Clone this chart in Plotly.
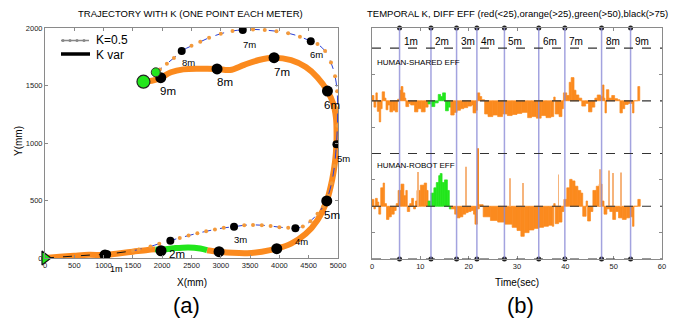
import plotly.graph_objects as go

# ---------------- Left panel data: trajectories (mm) ----------------
kvar_a_x = [0, 250, 500, 750, 1024, 1250, 1500, 1750, 1880]
kvar_a_y = [0, 10, 20, 28, 26, 40, 55, 70, 75]
kvar_green_x = [1880, 1980, 2200, 2450, 2650, 2765]
kvar_green_y = [75, 72, 85, 92, 82, 68]
kvar_b_x = [2765, 2970, 3200, 3450, 3700, 3955, 4200, 4450, 4650, 4808, 4900, 4950, 4973,
            4975, 4965, 4920, 4820, 4650, 4450, 4200, 3909, 3650, 3400, 3158, 2936, 2650,
            2361, 2150, 1975, 1850, 1680]
kvar_b_y = [68, 55, 45, 42, 55, 81, 125, 210, 330, 496, 680, 840, 990,
            1100, 1220, 1340, 1452, 1570, 1660, 1720, 1742, 1722, 1680, 1635, 1644, 1645,
            1640, 1615, 1568, 1545, 1533]

k05_start_x = [0, 300, 600, 900, 1200, 1500]
k05_start_y = [0, 8, 20, 30, 42, 62]
k05_x = [1500, 1600, 1800, 1950, 2139, 2300, 2450, 2600, 2750, 2900, 3050, 3226, 3400, 3550,
         3700, 3850, 4000, 4150, 4273, 4400, 4530, 4650, 4750, 4830, 4890, 4940, 4973, 4990,
         4995, 4985, 4950, 4880, 4780, 4650, 4535, 4350, 4150, 3950, 3750, 3550, 3375, 3200,
         3000, 2800, 2650, 2500, 2333, 2200, 2080, 1960, 1890]
k05_y = [62, 75, 100, 125, 151, 175, 195, 215, 232, 248, 262, 272, 285, 288,
         285, 278, 268, 262, 258, 275, 320, 385, 450, 540, 650, 800, 990, 1150,
         1300, 1450, 1580, 1700, 1800, 1860, 1885, 1925, 1955, 1972, 1982, 1988, 1983, 1975,
         1950, 1915, 1880, 1845, 1800, 1740, 1690, 1640, 1615]

kvar_meter_x = [1024, 1980, 2970, 3955, 4808, 4820, 3909, 2936, 1975]
kvar_meter_y = [26, 63, 55, 81, 496, 1452, 1742, 1644, 1568]
k05_meter_x = [1060, 2139, 3226, 4273, 4973, 4535, 3375, 2333]
k05_meter_y = [32, 151, 272, 258, 990, 1885, 1983, 1800]

kvar_label_text = ["2m", "5m", "6m", "7m", "8m", "9m"]
kvar_label_x = [2248, 4900, 4905, 4040, 3072, 2105]
kvar_label_y = [32, 374, 1330, 1620, 1533, 1448]
k05_label_text = ["1m", "3m", "4m", "5m", "6m", "7m", "8m"]
k05_label_x = [1215, 3329, 4381, 5092, 4637, 3488, 2446]
k05_label_y = [-92, 157, 142, 867, 1770, 1858, 1700]

# ---------------- Right panel data: temporal efficiency ----------------
hs_t = [0.0, 0.4, 0.8, 1.1, 1.5, 1.8, 2.1, 2.6, 2.9, 3.3, 3.7, 4.3, 4.8, 5.3, 5.7, 6.0, 6.4,
        6.8, 7.0, 7.6, 8.0, 8.8, 9.5, 10.2, 11.0, 11.6, 12.3, 13.0, 13.7, 14.2, 14.6, 15.2,
        15.8, 16.3, 17.0, 17.6, 18.3, 19.0, 19.8, 20.6, 20.9, 21.5, 21.8, 22.3, 22.7, 23.3,
        24.0, 25.0, 26.0, 27.0, 28.0, 29.0, 30.0, 31.0, 32.2, 33.0, 34.0, 35.0, 36.0, 37.0,
        37.6, 37.9, 38.7, 39.3, 39.6, 40.3, 40.8, 41.2, 41.8, 42.2, 42.8, 43.4, 44.2, 44.8,
        45.5, 46.1, 46.6, 47.3, 47.7, 48.0, 48.2, 48.5, 49.0, 49.6, 50.2, 50.8, 51.3, 51.8,
        52.3, 53.0, 53.9, 54.2, 55.0]
hs_v = [0.10, -0.12, 0.15, -0.20, -0.40, -0.15, 0.17, 0.05, -0.17, -0.08, -0.21, -0.18, -0.21,
        0.03, 0.20, 0.27, 0.15, 0.05, -0.11, -0.05, -0.08, -0.21, -0.15, -0.21, -0.12, -0.06,
        -0.11, -0.04, 0.12, 0.08, 0.15, -0.19, -0.12, -0.27, -0.22, -0.18, -0.15, -0.13, -0.10,
        -0.08, -0.23, -0.18, 0.15, 0.08, 0.02, -0.25, -0.30, -0.27, -0.30, -0.25, -0.28, -0.26,
        -0.24, -0.22, -0.32, -0.30, -0.33, -0.28, -0.32, -0.30, 0.07, -0.25, -0.30, -0.15, 0.15,
        0.10, 0.35, 0.44, 0.20, 0.11, 0.05, -0.10, -0.05, -0.21, -0.12, 0.05, 0.11, 0.08, 0.30,
        0.05, -0.23, 0.21, 0.05, 0.10, 0.04, 0.02, -0.23, -0.15, -0.07, -0.05, -0.23, 0.0, 0.27]
hs_end = 55.4
hs_green = (11.6, 16.3)

hr_t = [0.0, 0.4, 0.7, 1.1, 1.4, 1.8, 2.3, 2.6, 3.0, 3.5, 4.0, 4.6, 5.0, 5.4, 6.0, 6.6, 7.0,
        7.3, 7.8, 8.2, 8.6, 9.0, 9.3, 10.0, 10.8, 11.3, 11.6, 12.2, 12.8, 13.3, 13.8, 14.1,
        14.5, 15.0, 15.6, 16.0, 16.4, 17.1, 17.6, 18.2, 18.8, 19.4, 19.9, 20.5, 21.0, 21.3,
        21.8, 22.2, 23.0, 24.5, 26.0, 27.5, 29.0, 30.0, 30.8, 31.5, 32.5, 33.5, 34.5, 35.5,
        36.5, 37.3, 37.6, 37.9, 38.6, 39.3, 39.7, 40.3, 40.9, 41.4, 42.0, 42.6, 43.2, 43.6,
        44.3, 44.6, 45.2, 45.7, 46.4, 47.0, 47.6, 48.0, 48.6, 49.2, 49.8, 50.4, 51.0, 51.8,
        52.6, 53.3, 53.9, 54.2, 55.0]
hr_v = [0.13, -0.05, 0.15, 0.08, -0.15, 0.35, 0.44, 0.05, -0.25, -0.20, -0.15, -0.08, 0.05,
        0.30, 0.42, 0.20, 0.30, -0.10, 0.05, 0.15, -0.05, 0.10, 0.30, 0.40, 0.44, 0.30, 0.10,
        0.25, 0.35, 0.45, 0.58, 0.62, 0.45, 0.50, 0.30, -0.05, -0.05, -0.15, -0.22, -0.20,
        -0.15, -0.12, -0.10, -0.08, -0.15, -0.34, -0.05, 0.03, -0.20, -0.27, -0.30, -0.34,
        -0.40, -0.46, -0.57, -0.50, -0.45, -0.42, -0.40, -0.38, -0.36, -0.38, 0.05, -0.33,
        -0.30, -0.10, 0.13, 0.35, 0.51, 0.48, 0.38, 0.30, 0.25, -0.19, 0.10, -0.28, -0.10, 0.30,
        0.38, 0.42, 0.10, -0.15, -0.05, -0.10, -0.25, -0.10, -0.22, -0.25, -0.22, -0.20, -0.38,
        0.0, 0.13]
hr_end = 55.5
hr_green = (11.6, 16.4)

hr_spike_t = [9.5, 19.5, 22.0, 28.5, 31.3, 38.6, 47.2, 49.0, 49.9, 51.6]
hr_spike_v = [0.65, 0.75, 1.10, 0.53, 0.44, 0.60, 0.70, 0.68, 0.63, 0.64]

meter_t = [5.7, 12.2, 17.5, 21.7, 27.4, 34.5, 39.9, 47.5, 53.5]
meter_labels = ["1m", "2m", "3m", "4m", "5m", "6m", "7m", "8m", "9m"]

HS_BASE, HR_BASE = 3, 1
Y2_TOP = 4.38

ORANGE = "#fb8a1e"
GREEN = "#22e61c"
LIGHT_OR = "#f6b47c"
FONT = "Liberation Sans, Arial, sans-serif"
NARROW = "Liberation Sans Narrow, Arial Narrow, Liberation Sans, sans-serif"

# pixel layout of the page
W, H = 690.0, 326.0
L_X0, L_X1, L_Y0, L_Y1 = 45, 338, 258, 28     # left plot box (px)
R_X0, R_X1, R_Y0, R_Y1 = 372, 662, 259, 28    # right plot box (px)
X_MAX, Y_MAX = 5000, 2000


def px(x):
    return x / W


def py(y):
    return 1 - y / H


fig = go.Figure()

# ----- left panel traces -----
fig.add_trace(go.Scatter(x=kvar_a_x, y=kvar_a_y, mode="lines", line=dict(color=ORANGE, width=6, shape="spline"),
                         xaxis="x", yaxis="y", cliponaxis=False))
fig.add_trace(go.Scatter(x=kvar_b_x, y=kvar_b_y, mode="lines", line=dict(color=ORANGE, width=6, shape="spline"),
                         xaxis="x", yaxis="y", cliponaxis=False))
fig.add_trace(go.Scatter(x=kvar_green_x, y=kvar_green_y, mode="lines", line=dict(color=GREEN, width=6, shape="spline"),
                         xaxis="x", yaxis="y"))
fig.add_trace(go.Scatter(x=k05_start_x, y=k05_start_y, mode="lines", line=dict(color="#111", width=1, dash="dash"),
                         xaxis="x", yaxis="y"))
fig.add_trace(go.Scatter(x=k05_x, y=k05_y, mode="lines+markers",
                         line=dict(color="#2a3fd6", width=1, dash="dash", shape="spline"),
                         marker=dict(color="#f39a3c", size=4),
                         xaxis="x", yaxis="y"))
fig.add_trace(go.Scatter(x=k05_meter_x, y=k05_meter_y, mode="markers", marker=dict(color="black", size=8),
                         xaxis="x", yaxis="y"))
fig.add_trace(go.Scatter(x=kvar_meter_x, y=kvar_meter_y, mode="markers", marker=dict(color="black", size=11),
                         xaxis="x", yaxis="y"))
fig.add_trace(go.Scatter(x=[k05_x[-1]], y=[k05_y[-1]], mode="markers",
                         marker=dict(color=GREEN, size=9, line=dict(color="#333", width=1)), xaxis="x", yaxis="y"))
fig.add_trace(go.Scatter(x=[kvar_b_x[-1]], y=[kvar_b_y[-1]], mode="markers",
                         marker=dict(color=GREEN, size=13, line=dict(color="#222", width=1.2)), xaxis="x", yaxis="y"))
fig.add_trace(go.Scatter(x=[kvar_a_x[0]], y=[kvar_a_y[0]], mode="markers", cliponaxis=False,
                         marker=dict(color=GREEN, size=12, symbol="triangle-right", line=dict(color="#111", width=1.2)),
                         xaxis="x", yaxis="y"))


# ----- right panel traces -----
def bars(ts, vs, end, base, green):
    widths = [ts[i + 1] - ts[i] for i in range(len(ts) - 1)] + [end - ts[-1]]
    centers = [t + w / 2 for t, w in zip(ts, widths)]
    cols = [GREEN if green[0] <= t < green[1] else ORANGE for t in ts]
    return go.Bar(x=centers, y=vs, base=base, width=widths,
                  marker=dict(color=cols, line=dict(width=0.7, color=cols)),
                  xaxis="x2", yaxis="y2")


fig.add_trace(bars(hs_t, hs_v, hs_end, HS_BASE, hs_green))
fig.add_trace(bars(hr_t, hr_v, hr_end, HR_BASE, hr_green))
fig.add_trace(go.Bar(x=hr_spike_t, y=hr_spike_v, base=HR_BASE, width=0.18,
                     marker=dict(color=[ORANGE if v > 1 else LIGHT_OR for v in hr_spike_v], line=dict(width=0)),
                     xaxis="x2", yaxis="y2"))
fig.add_trace(go.Scatter(x=meter_t + meter_t, y=[Y2_TOP] * len(meter_t) + [0] * len(meter_t), mode="markers",
                         marker=dict(color="#222", size=5), cliponaxis=False, xaxis="x2", yaxis="y2"))

shapes = []
for t in meter_t:
    shapes.append(dict(type="line", xref="x2", yref="y2", x0=t, x1=t, y0=0, y1=Y2_TOP,
                       line=dict(color="rgba(140,140,215,0.8)", width=1.5), layer="above"))
for yv in [0, HR_BASE, 2, HS_BASE, 4]:
    shapes.append(dict(type="line", xref="x2", yref="y2", x0=0, x1=60, y0=yv, y1=yv,
                       line=dict(color="#333", width=1.2, dash="dash"), layer="above"))

# legend drawn manually (paper coordinates)
shapes.append(dict(type="line", xref="paper", yref="paper", x0=px(61), x1=px(89), y0=py(40.5), y1=py(40.5),
                   line=dict(color="#888", width=1.5)))
for cx in [63, 70, 77, 84]:
    shapes.append(dict(type="circle", xref="paper", yref="paper", x0=px(cx - 1.5), x1=px(cx + 1.5),
                       y0=py(42), y1=py(39), fillcolor="#888", line=dict(width=0)))
shapes.append(dict(type="line", xref="paper", yref="paper", x0=px(61), x1=px(90), y0=py(54), y1=py(54),
                   line=dict(color="black", width=3.5)))

ann = []


def A(text, x, y, size, family=FONT, xanchor="center", **kw):
    ann.append(dict(text=text, x=x, y=y, xref="paper", yref="paper", showarrow=False,
                    xanchor=xanchor, yanchor="middle",
                    font=dict(size=size, family=family, color="black"), **kw))


def left_xy(xd, yd):
    # data -> paper, for labels that may sit outside the axis range
    return (px(L_X0 + xd / X_MAX * (L_X1 - L_X0)), py(L_Y0 - yd / Y_MAX * (L_Y0 - L_Y1)))


A("K=0.5", px(94), py(40), 12, xanchor="left")
A("K var", px(94), py(54.5), 12, xanchor="left")
A("TRAJECTORY WITH K (ONE POINT EACH METER)", px(191), py(14), 9.5)
A("TEMPORAL K, DIFF EFF (red(<25),orange(>25),green(>50),black(>75)", px(517), py(14), 9.5)
A("X(mm)", px(192), py(282), 10)
A("Y(mm)", px(19), py(141), 10, textangle=-90)
A("Time(sec)", px(517), py(282), 10)
A("(a)", px(186), py(305), 22)
A("(b)", px(520), py(305), 22)
A("HUMAN-SHARED EFF", px(375), py(62), 8, family=NARROW, xanchor="left")
A("HUMAN-ROBOT EFF", px(375), py(166), 8, family=NARROW, xanchor="left")
for t, lab in zip(meter_t, meter_labels):
    ann.append(dict(text=lab, x=t, y=4.12, xref="x2", yref="y2", showarrow=False, xanchor="left",
                    yanchor="middle", xshift=2, font=dict(size=10, family=NARROW, color="black")))
for t, xx, yy in zip(kvar_label_text, kvar_label_x, kvar_label_y):
    ax, ay = left_xy(xx, yy)
    A(t, ax, ay, 11.5, family=NARROW)
for t, xx, yy in zip(k05_label_text, k05_label_x, k05_label_y):
    ax, ay = left_xy(xx, yy)
    A(t, ax, ay, 9 if t == "1m" else 9.5, family=NARROW)

axis_common = dict(showgrid=False, zeroline=False, showline=True, linecolor="#8a8a8a", linewidth=1,
                   ticks="inside", ticklen=3, tickcolor="#8a8a8a", mirror="ticks",
                   tickfont=dict(size=7.5, family=NARROW, color="#222"))

fig.update_layout(
    width=690, height=326, margin=dict(l=0, r=0, t=0, b=0, autoexpand=False),
    paper_bgcolor="white", plot_bgcolor="white", showlegend=False, barmode="overlay",
    xaxis=dict(domain=[px(L_X0), px(L_X1)], range=[0, X_MAX], tickvals=list(range(0, 5001, 500)),
               anchor="y", **axis_common),
    yaxis=dict(domain=[py(L_Y0), py(L_Y1)], range=[0, Y_MAX], tickvals=[0, 500, 1000, 1500, 2000],
               anchor="x", **axis_common),
    xaxis2=dict(domain=[px(R_X0), px(R_X1)], range=[0, 60], tickvals=list(range(0, 61, 10)),
                anchor="y2", **axis_common),
    yaxis2=dict(domain=[py(R_Y0), py(R_Y1)], range=[0, Y2_TOP], tickvals=[0.5, 1.5, 2.5, 3.5],
                showticklabels=False, anchor="x2", **axis_common),
    shapes=shapes, annotations=ann,
)

fig.write_html("out.html", config={"displayModeBar": False},
               post_script="document.body.style.margin='0';document.body.style.overflow='hidden';")
